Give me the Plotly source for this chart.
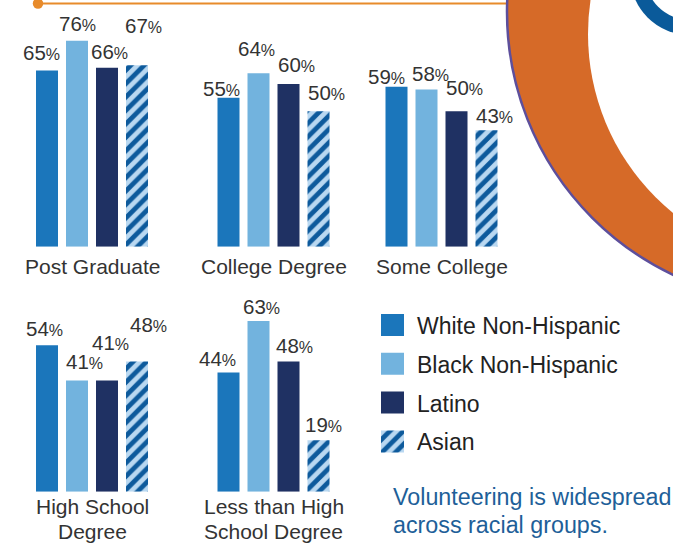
import plotly.graph_objects as go

# ---------------- data ----------------
groups = ["Post Graduate", "College Degree", "Some College",
          "High School\nDegree", "Less than High\nSchool Degree"]
races = ["White Non-Hispanic", "Black Non-Hispanic", "Latino", "Asian"]
white_nh = [65, 55, 59, 54, 44]
black_nh = [76, 64, 58, 41, 63]
latino = [66, 60, 50, 41, 48]
asian = [67, 50, 43, 48, 19]
note = ["Volunteering is widespread", "across racial groups."]

# ---------------- style ----------------
W, H = 673, 544
FONT = "Liberation Sans, Arial, Helvetica, sans-serif"
TXT = "#333333"
C_ASIAN_BG = "#b9d8f1"
C_ASIAN_FG = "#0d5a9c"
race_colors = ["#1b76bb", "#72b3de", "#1f3163", C_ASIAN_BG]
race_patterns = ["", "", "", "/"]

panel_left = [32, 213.5, 381.5, 32, 213.5]     # px, left edge of 4-slot panel
panel_row = [0, 0, 0, 1, 1]
row_base = [246.7, 491.7]                        # px, baseline of each row
PX_PER_SLOT = 30
PX_PER_PCT = 2.71
Y_MAX = 90
label_y = [266.5, 506]                           # px, category label line centres
label_dy = [[18.5, 17, 16.5, 39.7], [9.3, 24.3, 19.7, 19], [10, 16, 23.3, 14.3],
            [16.5, 18.7, 38, 37], [14, 14.7, 16.3, 15.4]]
label_dx = [[-6, 0.5, 2.5, 6.7], [-7.5, -2, 8, 7.5], [-10.5, 4, 8, 8],
            [-2.3, 7.7, 3, 11.5], [-11, 3, 6, 5]]


def pxx(x):
    return x / W


def pyy(y):
    return 1 - y / H


def marker_for(j):
    m = dict(color=race_colors[j], line=dict(width=0))
    if race_patterns[j]:
        m["pattern"] = dict(shape=race_patterns[j], fgcolor=C_ASIAN_FG,
                            bgcolor=C_ASIAN_BG, fgopacity=1,
                            fillmode="replace", size=9.5, solidity=0.5)
    return m


fig = go.Figure()
layout_axes = {}
annotations = []
series = [white_nh, black_nh, latino, asian]

for i, g in enumerate(groups):
    n = "" if i == 0 else str(i + 1)
    for j, s in enumerate(series):
        fig.add_trace(go.Bar(
            x=[j], y=[s[i]], width=22 / 30, name=races[j],
            marker=marker_for(j),
            xaxis="x" + n, yaxis="y" + n, showlegend=False, hoverinfo="skip",
        ))
        annotations.append(dict(
            x=j, y=s[i], xref="x" + n, yref="y" + n,
            text=f"{s[i]}<span style='font-size:16px'>%</span>",
            showarrow=False, xanchor="center", yanchor="middle",
            xshift=label_dx[i][j], yshift=label_dy[i][j],
            font=dict(family=FONT, size=20.5, color=TXT)))
    left = panel_left[i]
    base = row_base[panel_row[i]]
    layout_axes["xaxis" + n] = dict(
        domain=[pxx(left), pxx(left + 4 * PX_PER_SLOT)], range=[-0.5, 3.5],
        visible=False, anchor="y" + n, fixedrange=True)
    layout_axes["yaxis" + n] = dict(
        domain=[pyy(base), pyy(base - Y_MAX * PX_PER_PCT)], range=[0, Y_MAX],
        visible=False, anchor="x" + n, fixedrange=True)
    for k, line in enumerate(g.split("\n")):
        annotations.append(dict(
            x=1.5, y=pyy(label_y[panel_row[i]] + k * 25.5),
            xref="x" + n, yref="paper", text=line, showarrow=False,
            xanchor="center", yanchor="middle",
            font=dict(family=FONT, size=21, color=TXT)))

# legend built as a small swatch chart
for j, r in enumerate(races):
    fig.add_trace(go.Bar(
        x=[1], y=[r], orientation="h", width=22 / 38.8, name=r,
        marker=marker_for(j), xaxis="x6", yaxis="y6",
        showlegend=False, hoverinfo="skip"))
    annotations.append(dict(
        x=1, y=r, xref="x6", yref="y6", text=r, showarrow=False,
        xanchor="left", yanchor="middle", xshift=11, yshift=-1,
        font=dict(family=FONT, size=23, color="#222222")))
layout_axes["xaxis6"] = dict(domain=[pxx(381), pxx(404)], range=[0, 1],
                             visible=False, anchor="y6", fixedrange=True)
layout_axes["yaxis6"] = dict(domain=[pyy(460.8), pyy(305.6)],
                             range=[3.5, -0.5], visible=False, anchor="x6",
                             type="category", categoryarray=races,
                             fixedrange=True)

for k, line in enumerate(note):
    annotations.append(dict(
        x=pxx(391), y=pyy(496.5 + k * 28), xref="paper", yref="paper",
        text=line, showarrow=False, xanchor="left", yanchor="middle",
        font=dict(family=FONT, size=23.3, color="#1e5f99")))

# decorative elements (top rule and cropped donut graphic)
def circ(cx, cy, r, fill, line_color=None, lw=0):
    return dict(type="circle", xref="paper", yref="paper",
                x0=pxx(cx - r), x1=pxx(cx + r), y0=pyy(cy + r), y1=pyy(cy - r),
                fillcolor=fill, line=dict(color=line_color or fill, width=lw),
                layer="above")

shapes = [
    dict(type="line", xref="paper", yref="paper", x0=pxx(38), x1=pxx(560),
         y0=pyy(3.5), y1=pyy(3.5), line=dict(color="#e88b2b", width=2.2)),
    circ(38, 3.5, 5.2, "#e88b2b"),
    circ(798, 12, 291, "#d66a28", "#5d4f9c", 2.5),
    circ(819, 34, 231, "#ffffff"),
    circ(690, -25, 60, "#0a5a9a"),
    circ(690, -25, 45, "#ffffff"),
]

fig.update_layout(
    width=W, height=H, margin=dict(l=0, r=0, t=0, b=0),
    paper_bgcolor="white", plot_bgcolor="rgba(0,0,0,0)",
    barmode="overlay", showlegend=False,
    annotations=annotations, shapes=shapes,
    **layout_axes)

fig.write_html(
    "out.html",
    config={"displayModeBar": False, "staticPlot": True},
    post_script="document.body.style.margin='0';"
                "document.body.style.overflow='hidden';")
